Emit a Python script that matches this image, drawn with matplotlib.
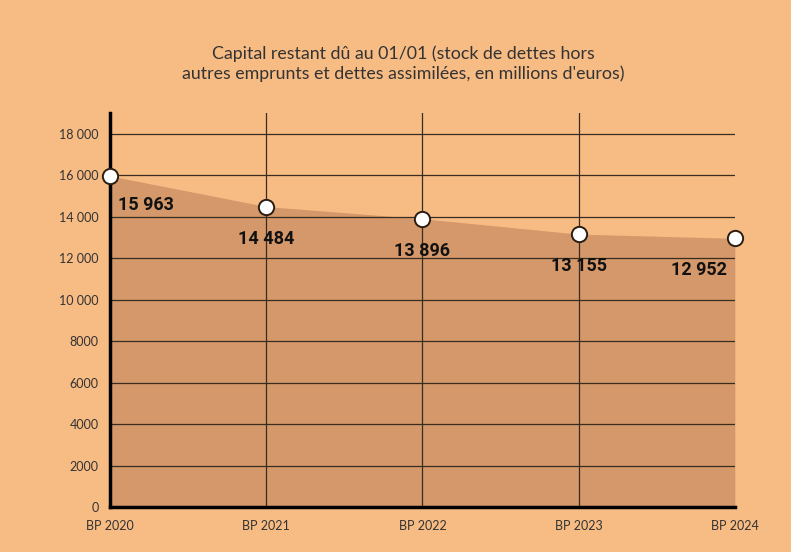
import matplotlib.pyplot as plt

# data
years = ['BP 2020', 'BP 2021', 'BP 2022', 'BP 2023', 'BP 2024']
capital = [15963, 14484, 13896, 13155, 12952]
value_labels = ['15 963', '14 484', '13 896', '13 155', '12 952']
yticks = [0, 2000, 4000, 6000, 8000, 10000, 12000, 14000, 16000, 18000]
ytick_labels = ['0', '2000', '4000', '6000', '8000', '10 000', '12 000', '14 000', '16 000', '18 000']

BG = '#F7BB84'
AREA = '#D4986A'
GRID = '#3b2c20'

plt.rcParams['font.family'] = ['Lato', 'DejaVu Sans']

fig = plt.figure(figsize=(7.91, 5.52), dpi=100, facecolor=BG)
ax = fig.add_axes([0.139, 0.0815, 0.79, 0.714])
ax.set_facecolor(BG)

x = list(range(len(years)))
ax.fill_between(x, capital, 0, color=AREA, zorder=1, linewidth=0)

# grid drawn over the area
for yv in yticks[1:]:
    ax.axhline(yv, color=GRID, lw=0.9, zorder=2)
for xv in x[1:-1]:
    ax.axvline(xv, color=GRID, lw=0.9, zorder=2)

ax.plot(x, capital, linestyle='none', marker='o', markersize=11,
        markerfacecolor='white', markeredgecolor='#2a1d12', markeredgewidth=1.4,
        zorder=5, clip_on=False)

offsets = [(6, -21, 'left'), (0, -23, 'center'), (0, -23, 'center'), (0, -23, 'center'), (-6, -23, 'right')]
for xi, v, lab, (dx, dy, ha) in zip(x, capital, value_labels, offsets):
    ax.annotate(lab, (xi, v), xytext=(dx, dy), textcoords='offset points',
                ha=ha, va='center', fontsize=13, fontweight='bold',
                color='#111111', family=['Roboto', 'DejaVu Sans'], zorder=6)

ax.set_xlim(0, len(years) - 1)
ax.set_ylim(0, 19000)
ax.set_xticks(x)
ax.set_xticklabels(years)
ax.set_yticks(yticks)
ax.set_yticklabels(ytick_labels)
ax.tick_params(length=0, labelsize=9, colors='#333333', pad=8)
ax.tick_params(axis='x', pad=9)

for s in ['top', 'right']:
    ax.spines[s].set_visible(False)
for s in ['left', 'bottom']:
    ax.spines[s].set_linewidth(2.5)
    ax.spines[s].set_color('black')
    ax.spines[s].set_zorder(4)

fig.text(0.51, 0.885, "Capital restant dû au 01/01 (stock de dettes hors\n"
         "autres emprunts et dettes assimilées, en millions d'euros)",
         ha='center', va='center', fontsize=12.8,
         color='#333333', linespacing=1.25)

fig.savefig('out.png', dpi=100, facecolor=BG)
